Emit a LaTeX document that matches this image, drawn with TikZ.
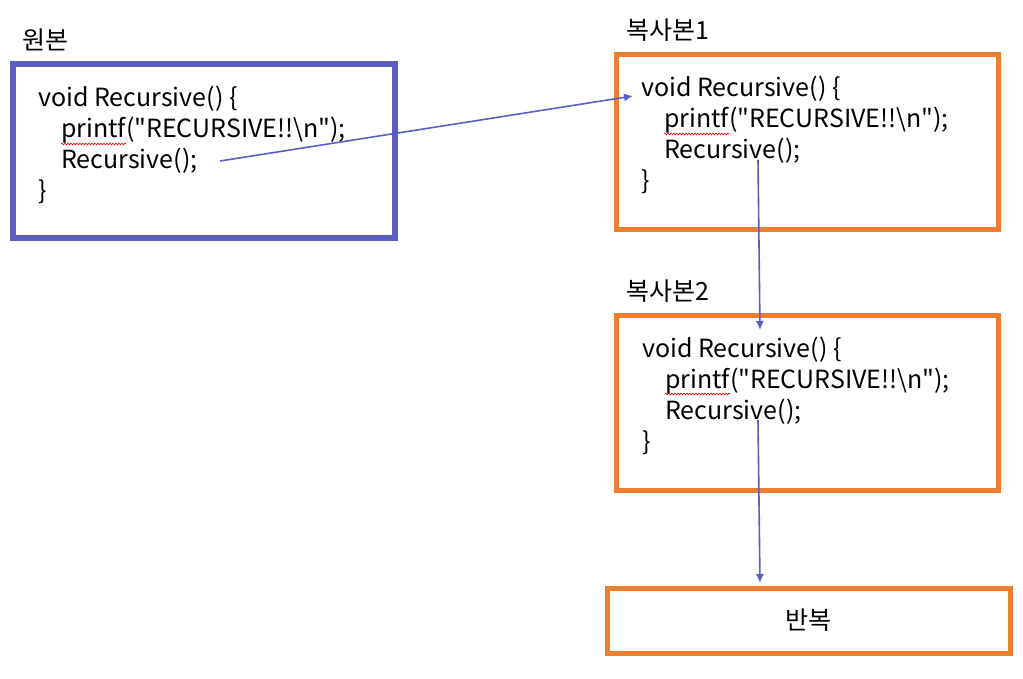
\documentclass[tikz,border=0pt]{standalone}
\usepackage{fontspec}
\setmainfont{Noto Sans CJK KR}
\usetikzlibrary{arrows.meta, positioning, calc, decorations.pathmorphing}
\definecolor{frameblue}{HTML}{5A5EC4}
\definecolor{frameorange}{HTML}{ED7D31}
\tikzset{
    origbox/.style={
        rectangle, draw=frameblue, line width=6pt, inner sep=0pt,
        minimum width=382pt, minimum height=174pt
    },
    copybox/.style={
        rectangle, draw=frameorange, line width=5pt, inner sep=0pt,
        minimum width=382pt, minimum height=175pt
    },
    title/.style={font=\fontsize{25}{29}\selectfont, inner sep=0pt, anchor=base west},
    codeline/.style={font=\fontsize{25}{29}\selectfont, inner sep=0pt, anchor=base west},
    link/.style={-{Latex[length=9pt, width=8pt]}, line width=1.6pt, draw=frameblue},
    squiggle/.style={
        draw=red, line width=0.6pt, decorate,
        decoration={snake, amplitude=0.9pt, segment length=3pt}
    }
}

\begin{document}
\begin{tikzpicture}[x=1pt, y=-1pt]
    \useasboundingbox (0,0) rectangle (1023,679);

    \node[origbox] (orig) at (204,151) {};
    \node[copybox] (copy1) at (807,142) {};
    \node[copybox] (copy2) at (807.5,403) {};
    \node[copybox, minimum width=403pt, minimum height=65pt,
          font=\fontsize{25}{29}\selectfont] (rep) at (808.5,620.5) {반복};

    \node[title] (t0) at (22,50) {원본};
    \node[title] (t1) at (626,40) {복사본1};
    \node[title] (t2) at (626,300) {복사본2};

    % same four code lines in every box
    \foreach \n/\x/\y in {1/38/107, 2/641/97, 3/642/357} {
        \node[codeline] (head\n) at (\x,\y) {void Recursive() \{};
        \node[codeline] (pf\n) at ([xshift=23pt, yshift=-31pt]head\n.base west)
            {printf(\textquotedbl RECURSIVE!!\textbackslash n\textquotedbl);};
        \node[codeline] (call\n) at ([yshift=-31pt]pf\n.base west) {Recursive();};
        \node[codeline] (close\n) at ([yshift=-93pt]head\n.base west) {\}};
        \draw[squiggle] ([yshift=-6pt]pf\n.base west) -- ++(65,0);
    }

    \coordinate (from1) at (220,161);
    \coordinate (to1) at (633,96);
    \coordinate (from2) at (758,160);
    \coordinate (to2) at (760,330);
    \coordinate (from3) at (758,420);
    \coordinate (to3) at (760,583);

    \draw[link] (from1) -- (to1);
    \draw[link] (from2) -- (to2);
    \draw[link] (from3) -- (to3);
\end{tikzpicture}
\end{document}
